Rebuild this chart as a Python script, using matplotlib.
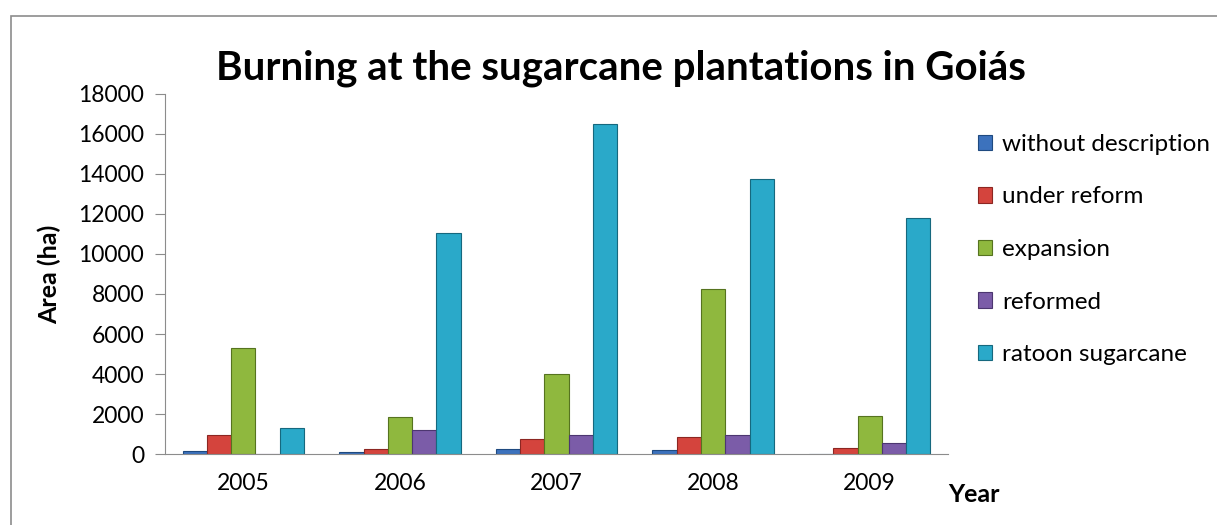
import matplotlib.pyplot as plt
import numpy as np
from matplotlib.patches import Rectangle

years = ['2005', '2006', '2007', '2008', '2009']
series = ['without description', 'under reform', 'expansion', 'reformed', 'ratoon sugarcane']
without_description = [150, 100, 250, 200, 0]
under_reform = [950, 250, 750, 850, 300]
expansion = [5300, 1850, 4000, 8250, 1900]
reformed = [20, 1200, 950, 950, 550]
ratoon = [1300, 11050, 16500, 13750, 11800]
values = [without_description, under_reform, expansion, reformed, ratoon]

colors = ['#3c72bd', '#d4443d', '#8fb83e', '#7b5ca8', '#2aa9c9']
edges = ['#1f4a80', '#8c2622', '#56731f', '#4c3670', '#16687e']

plt.rcParams['font.family'] = ['Lato', 'DejaVu Sans']

fig = plt.figure(figsize=(12.17, 5.25), dpi=100)
fig.patches.append(Rectangle((0.009, -0.05), 1.05, 1.02, transform=fig.transFigure,
                             fill=False, edgecolor='#8c8c8c', linewidth=1.2))

ax = fig.add_axes([0.1356, 0.1352, 0.6434, 0.6858])
x = np.arange(len(years))
w = 0.155
for i, (vals, name) in enumerate(zip(values, series)):
    ax.bar(x + (i - 2) * w, vals, width=w, color=colors[i], edgecolor=edges[i],
           linewidth=0.8, label=name)

ax.set_xlim(-0.5, 4.5)
ax.set_ylim(0, 18000)
ax.set_yticks(range(0, 18001, 2000))
ax.set_xticks(x)
ax.set_xticklabels(years)
ax.tick_params(axis='y', labelsize=16.5, length=7, color='#8c8c8c', pad=8)
ax.tick_params(axis='x', labelsize=16.5, length=0, pad=14)
for s in ['top', 'right']:
    ax.spines[s].set_visible(False)
for s in ['left', 'bottom']:
    ax.spines[s].set_color('#8c8c8c')

ax.set_ylabel('Area (ha)', fontsize=18, fontweight='bold', labelpad=12)
fig.text(0.8, 0.058, 'Year', fontsize=18, fontweight='bold', ha='center', va='center')
fig.text(0.51, 0.87, 'Burning at the sugarcane plantations in Goiás', fontsize=29,
         fontweight='bold', ha='center', va='center')

leg = ax.legend(loc='upper left', bbox_to_anchor=(1.01, 0.95), frameon=False,
                fontsize=17.5, handlelength=0.6, handleheight=0.6, labelspacing=1.3,
                handletextpad=0.4)

fig.savefig('out.png', dpi=100)
